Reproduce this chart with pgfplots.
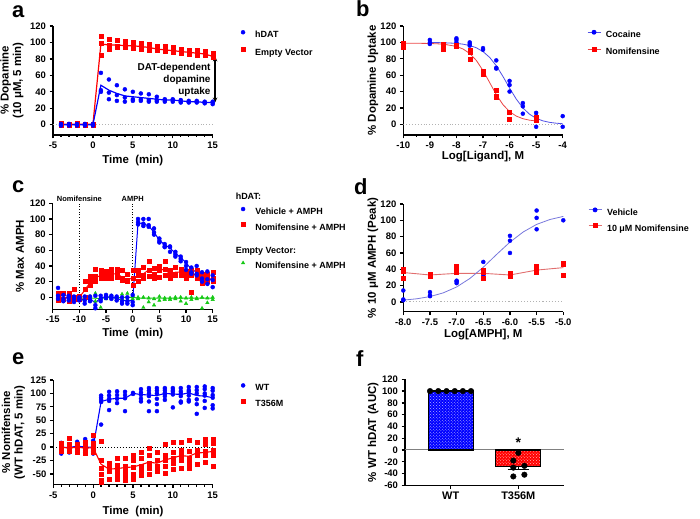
\documentclass[border=0pt]{standalone}
\usepackage{fontspec}
\setmainfont{Liberation Sans}
\usepackage{pgfplots}
\pgfplotsset{compat=1.18}
\usetikzlibrary{arrows.meta,patterns}
\definecolor{gpblue}{RGB}{0,0,255}
\definecolor{gpred}{RGB}{255,0,0}
\definecolor{gpgreen}{RGB}{20,200,20}
\definecolor{fitblue}{RGB}{80,80,230}
\definecolor{fitred}{RGB}{235,70,70}
\definecolor{dblue}{RGB}{120,120,220}
\definecolor{dred}{RGB}{225,110,110}
\pgfplotsset{
  gp/.style={
    scale only axis,
    anchor=south west,
    axis lines*=left,
    axis line style={line width=1.3bp},
    every tick/.style={line width=1.3bp, black},
    tick align=outside,
    major tick length=3.5bp,
    minor tick length=2bp,
    tick label style={font=\bfseries\fontsize{9.5}{9.5}\selectfont},
    /pgf/number format/assume math mode=true,
    label style={font=\bfseries\fontsize{11.5}{12.5}\selectfont},
    legend style={draw=none, fill=none, inner sep=0pt, font=\bfseries\fontsize{9}{10}\selectfont, cells={anchor=base west}, anchor=north west},
    legend cell align=left,
  },
  mk/.style={legend image code/.code={\draw[##1] plot coordinates {(0bp,3.2bp)}; \path (-2bp,0bp) (10bp,0bp);}},
  ln/.style={legend image code/.code={\draw[mark repeat=2,mark phase=2,##1] plot coordinates {(-6.5bp,3.2bp) (0bp,3.2bp) (6.5bp,3.2bp)}; \path (-6.5bp,0bp) (9.5bp,0bp);}},
  bdot/.style={only marks, mark=*, mark size=2bp, mark options={draw=gpblue, fill=gpblue}},
  rsq/.style={only marks, mark=square*, mark size=2bp, mark options={draw=gpred, fill=gpred}},
  gtri/.style={only marks, mark=triangle*, mark size=2bp, mark options={draw=gpgreen, fill=gpgreen}},
}
\begin{document}
\begin{tikzpicture}
% panel letters
\node[anchor=base west, inner sep=0pt, font=\bfseries\fontsize{22}{22}\selectfont] at (12bp,501bp) {a};
\node[anchor=base west, inner sep=0pt, font=\bfseries\fontsize{22}{22}\selectfont] at (356bp,502bp) {b};
\node[anchor=base west, inner sep=0pt, font=\bfseries\fontsize{22}{22}\selectfont] at (12bp,326bp) {c};
\node[anchor=base west, inner sep=0pt, font=\bfseries\fontsize{22}{22}\selectfont] at (354bp,324bp) {d};
\node[anchor=base west, inner sep=0pt, font=\bfseries\fontsize{22}{22}\selectfont] at (12bp,154bp) {e};
\node[anchor=base west, inner sep=0pt, font=\bfseries\fontsize{22}{22}\selectfont] at (356bp,152bp) {f};

% ---------- panel a ----------
\begin{axis}[gp, mk, at={(53bp,384bp)}, width=159.7bp, height=109bp,
  xmin=-5, xmax=15, ymin=-12.5, ymax=120,
  xtick={-5,0,...,15}, minor xtick={-4,...,14}, ytick={0,20,...,120},
  xlabel={Time\ \ (min)}, ylabel={\% Dopamine\\(10 μM, 5 min)},
  ylabel style={align=center, at={(axis description cs:-0.257,0.5)}, anchor=center},
  xlabel style={at={(axis description cs:0.5,-0.232)}, anchor=center},
  clip=false,
  legend style={at={(axis description cs:1.175,0.97)}, row sep=5.5bp}]
\addplot[gray!60, dotted, line width=0.9bp, forget plot] coordinates {(-5,0) (15,0)};
\addplot[gpred, line width=1.2bp, forget plot] coordinates {(-4,0.5)(-3,0.5)(-2,0.5)(-1,0.5)(0,0.5)(1,98)(2,97)(3,97)(4,96)(5,96)(6,95)(7,94)(8,92)(9,91)(10,90)(11,89)(12,88)(13,87)(14,86)(15,83)};
\addplot[gpblue, line width=1.2bp, forget plot] coordinates {(-4,0)(-3,0)(-2,0)(-1,0)(0,0)(1,48)(2,42)(3,38)(4,35)(5,34)(6,33)(7,32)(8,31)(9,30)(10,30)(11,29)(12,28)(13,28)(14,27)(15,27)};
\addplot[rsq, forget plot] coordinates {(-4,2)(-4,0)(-4,-1)(-3,1)(-3,0)(-3,-1)(-2,2)(-2,0)(-2,-1)(-1,1)(-1,0)(-1,-1)(0,1)(0,0)(0,-1)
(1,107)(1,99)(1,84)(2,104)(2,97)(2,92)(3,103)(3,96)(3,94)(4,101)(4,95)(4,94)(5,100)(5,95)(5,93)(6,99)(6,94)(6,92)(7,98)(7,93)(7,91)(8,96)(8,91)(8,90)(9,95)(9,90)(9,89)(10,94)(10,89)(10,88)(11,92)(11,88)(11,87)(12,91)(12,87)(12,86)(13,90)(13,86)(13,85)(14,89)(14,85)(14,84)(15,87)(15,84)(15,82)};
\addplot[bdot, forget plot] coordinates {(-4,1)(-4,0)(-4,-1)(-3,1)(-3,0)(-3,-1)(-2,1)(-2,0)(-2,-1)(-1,1)(-1,0)(-1,-1)(0,1)(0,0)(0,-1)
(1,63)(1,42)(1,40)(2,55)(2,39)(2,31)(3,48)(3,36)(3,29)(4,43)(4,33)(4,28)(5,40)(5,31)(5,29)(6,38)(6,31)(6,29)(7,37)(7,30)(7,28)(8,34)(8,30)(8,28)(9,31)(9,30)(9,28)(10,31)(10,30)(10,28)(11,30)(11,28)(11,27)(12,29)(12,28)(12,27)(13,29)(13,28)(13,27)(14,28)(14,27)(14,26)(15,28)(15,27)(15,25)};
\addlegendimage{bdot}\addlegendentry{hDAT}
\addlegendimage{rsq}\addlegendentry{Empty Vector}
\draw[line width=1.3bp, {Stealth[length=5bp,width=4.5bp]}-{Stealth[length=5bp,width=4.5bp]}] (axis cs:15.3,83) -- (axis cs:15.3,27);
\node[anchor=east, align=right, inner sep=0pt, font=\bfseries\fontsize{10}{12}\selectfont] at (axis cs:14.75,54) {DAT-dependent\\dopamine\\uptake};
\end{axis}

% ---------- panel b ----------
\begin{axis}[gp, ln, at={(403.3bp,384bp)}, width=159.4bp, height=109bp,
  xmin=-10, xmax=-4, ymin=-13, ymax=120,
  xtick={-10,...,-4}, minor xtick={-9.5,-8.5,...,-4.5}, ytick={0,20,...,120},
  xlabel={Log[Ligand], M}, ylabel={\% Dopamine Uptake},
  ylabel style={at={(axis description cs:-0.19,0.5)}, anchor=center},
  xlabel style={at={(axis description cs:0.5,-0.2)}, anchor=center},
  legend style={at={(axis description cs:1.152,0.97)}, row sep=5bp}]
\addplot[gray!60, dotted, line width=0.9bp, forget plot] coordinates {(-10,0) (-4,0)};
\addplot[fitblue, line width=0.8bp, forget plot] coordinates {(-9,99.9)(-8.5,99.6)(-8,98.8)(-7.75,97.8)(-7.5,96.2)(-7.25,93.4)(-7,88.8)(-6.75,81.7)(-6.5,71.5)(-6.25,58.5)(-6,44.3)(-5.75,30.9)(-5.5,20.1)(-5.25,12.4)(-5,7.4)(-4.75,4.3)(-4.5,2.45)(-4.25,1.4)(-4,0.8)};
\addplot[fitred, line width=0.8bp, forget plot] coordinates {(-10,99)(-9.5,98.9)(-9,98.7)(-8.5,97.9)(-8,95.1)(-7.75,91.9)(-7.5,86.5)(-7.25,77.9)(-7,65.7)(-6.75,51)(-6.5,36.3)(-6.25,24.1)(-6,15.5)(-5.75,10.1)(-5.5,6.9)(-5.25,5.1)(-5,4.1)};
\addplot[bdot, forget plot] coordinates {(-9,103)(-9,100)(-9,98)(-8,105)(-8,103)(-8,100)(-7.5,100)(-7.5,98)(-7.5,96)(-7,93)(-7,91)(-6.5,78)(-6.5,69)(-6.5,68)(-6,53)(-6,48)(-6,40)(-5.5,26)(-5.5,22)(-5.5,13)(-5,14)(-5,10)(-5,-3)(-4,10)(-4,-3)};
\addplot[rsq, forget plot] coordinates {(-10,99)(-10,96)(-10,94)(-8.5,98)(-8.5,92)(-8,97)(-8,95)(-7.5,90)(-7.5,88)(-7.5,79)(-7,65)(-7,63)(-7,61)(-6.5,42)(-6.5,34)(-6.5,33)(-6,15)(-6,6)(-5,9)(-5,6)(-5,5)};
\addlegendimage{fitblue, line width=0.8bp, mark=*, mark size=2bp, mark options={draw=gpblue, fill=gpblue}}\addlegendentry{Cocaine}
\addlegendimage{fitred, line width=0.8bp, mark=square*, mark size=2bp, mark options={draw=gpred, fill=gpred}}\addlegendentry{Nomifensine}
\end{axis}

% ---------- panel c ----------
\begin{axis}[gp, mk, at={(52.7bp,209.7bp)}, width=160bp, height=106bp,
  xmin=-15, xmax=15, ymin=-15.3, ymax=120,
  xtick={-15,-10,...,15}, ytick={0,20,...,120},
  xlabel={Time\ \ (min)}, ylabel={\% Max AMPH},
  ylabel style={at={(axis description cs:-0.204,0.5)}, anchor=center},
  xlabel style={at={(axis description cs:0.5,-0.226)}, anchor=center},
  clip=false,
  legend style={at={(axis description cs:1.175,1.12)}, row sep=3.5bp}]
\draw[dotted, line width=0.7bp] (axis cs:-10,-15.3) -- (axis cs:-10,120);
\draw[dotted, line width=0.7bp] (axis cs:0,-15.3) -- (axis cs:0,120);
\node[anchor=base, inner sep=0pt, font=\bfseries\fontsize{7.5}{8}\selectfont] at (axis cs:-10,122) {Nomifensine};
\node[anchor=base, inner sep=0pt, font=\bfseries\fontsize{7.5}{8}\selectfont] at (axis cs:0,122) {AMPH};
\addplot[gpgreen, line width=1bp, forget plot] coordinates {(-10,-1)(-9,-1)(-8,-1)(-7,-1)(-6,-2)(-5,0)(-4,0)(-3,-1)(-2,0)(-1,0)(0,0)(1,-1)(2,-1)(3,-1)(4,-1)(5,-1)(6,-1)(7,-1)(8,-1)(9,-1)(10,-1)(11,-1)(12,-1)(13,-1)(14,-1)(15,-1)};
\addplot[gpred, line width=1bp, forget plot] coordinates {(-14,0)(-13,0)(-12,0)(-11,1)(-10,0)(-9,9)(-8,19)(-7,25)(-6,28)(-5,29)(-4,30)(-3,30)(-2,26)(-1,22)(0,25)(1,26)(2,30)(3,35)(4,30)(5,33)(6,37)(7,29)(8,32)(9,32)(10,30)(11,28)(12,30)(13,24)(14,22)(15,24)};
\addplot[gpblue, line width=1bp, forget plot] coordinates {(-14,2)(-13,-1)(-12,-1)(-11,-2)(-10,-2)(-9,-3)(-8,-2)(-7,-7)(-6,-1)(-5,1)(-4,0)(-3,-1)(-2,-4)(-1,-4)(0,-4)(1,95)(2,94)(3,91)(4,83)(5,73)(6,67)(7,63)(8,56)(9,51)(10,44)(11,36)(12,32)(13,30)(14,22)(15,24)};
\addplot[gtri, forget plot] coordinates {(-10,0)(-10,-2)(-9,-1)(-9,-3)(-8,1)(-8,-4)(-7,5)(-7,-5)(-6,-1)(-6,-13)(-5,3)(-5,-2)(-4,2)(-4,-1)(-3,0)(-3,-3)(-2,4)(-2,-2)(-1,5)(-1,-3)(0,2)(0,-2)(1,0)(1,-2)(2,0)(2,-13)(3,-1)(3,-6)(4,-2)(4,-10)(5,1)(5,-4)(6,-1)(6,-3)(7,-1)(7,-3)(8,0)(8,-2)(9,0)(9,-5)(10,-1)(10,-8)(11,0)(11,-3)(12,-1)(12,-2)(13,0)(13,-14)(14,-1)(14,-7)(15,0)(15,-3)};
\addplot[rsq, forget plot] coordinates {(-14,5)(-14,0)(-14,-4)(-13,5)(-13,-2)(-13,-3)(-12,5)(-12,-1)(-12,-5)(-11,10)(-11,0)(-11,-3)(-10,2)(-10,-1)(-10,-3)(-9,20)(-9,10)(-9,0)(-8,27)(-8,20)(-8,15)(-7,36)(-7,27)(-7,20)(-6,35)(-6,28)(-6,24)(-5,33)(-5,30)(-5,24)(-4,36)(-4,30)(-4,25)(-3,36)(-3,32)(-3,26)(-2,34)(-2,25)(-2,22)(-1,30)(-1,22)(-1,20)(0,35)(0,25)(0,15)
(1,35)(1,28)(1,20)(2,38)(2,28)(2,25)(3,46)(3,34)(3,27)(4,37)(4,30)(4,25)(5,40)(5,35)(5,26)(6,46)(6,36)(6,28)(7,35)(7,30)(7,25)(8,38)(8,30)(8,28)(9,36)(9,32)(9,28)(10,33)(10,30)(10,25)(11,34)(11,28)(11,7)(12,35)(12,30)(12,25)(13,30)(13,25)(13,18)(14,30)(14,24)(14,20)(15,32)(15,25)(15,20)};
\addplot[bdot, forget plot] coordinates {(-14,12)(-14,2)(-14,-2)(-13,3)(-13,-2)(-13,-5)(-12,2)(-12,0)(-12,-4)(-11,1)(-11,-2)(-11,-6)(-10,0)(-10,-2)(-10,-4)(-9,1)(-9,-4)(-9,-8)(-8,1)(-8,-3)(-8,-5)(-7,2)(-7,-10)(-7,-14)(-6,2)(-6,-2)(-6,-5)(-5,3)(-5,1)(-5,-1)(-4,2)(-4,0)(-4,-2)(-3,1)(-3,-1)(-3,-4)(-2,0)(-2,-5)(-2,-8)(-1,0)(-1,-5)(-1,-8)(0,3)(0,-6)(0,-10)
(1,100)(1,96)(1,93)(2,100)(2,94)(2,91)(3,100)(3,92)(3,90)(4,88)(4,83)(4,80)(5,75)(5,72)(5,70)(6,68)(6,65)(6,64)(7,65)(7,64)(7,58)(8,58)(8,55)(8,52)(9,52)(9,49)(9,46)(10,45)(10,40)(10,35)(11,38)(11,32)(11,30)(12,40)(12,30)(12,28)(13,32)(13,24)(13,20)(14,33)(14,23)(14,17)(15,28)(15,22)(15,13)};
\addlegendimage{empty legend}\addlegendentry{\hspace*{-19.5bp}hDAT:}
\addlegendimage{bdot}\addlegendentry{Vehicle + AMPH}
\addlegendimage{rsq}\addlegendentry{Nomifensine + AMPH}
\addlegendimage{empty legend}\addlegendentry{\hspace*{-19.5bp}\rule{0pt}{14bp}Empty Vector:}
\addlegendimage{gtri}\addlegendentry{Nomifensine + AMPH}
\end{axis}

% ---------- panel d ----------
\begin{axis}[gp, ln, at={(403.3bp,207.3bp)}, width=160bp, height=107.7bp,
  xmin=-8, xmax=-5, ymin=-12, ymax=120,
  xtick={-8,-7.5,...,-5}, ytick={0,20,...,120},
  xticklabel style={/pgf/number format/.cd, fixed, fixed zerofill, precision=1},
  xlabel={Log[AMPH], M}, ylabel={\% 10 μM AMPH (Peak)},
  ylabel style={at={(axis description cs:-0.19,0.5)}, anchor=center},
  xlabel style={at={(axis description cs:0.5,-0.216)}, anchor=center},
  legend style={at={(axis description cs:1.154,0.973)}, row sep=3.5bp}]
\addplot[gray!60, dotted, line width=1.1bp, forget plot] coordinates {(-8,0) (-5,0)};
\addplot[dred, line width=0.9bp, forget plot] coordinates {(-8,36)(-7.5,33)(-7,35)(-6.5,35)(-6,33)(-5.5,39)(-5,42)};
\addplot[dblue, line width=0.8bp, forget plot] coordinates {(-8,2.2)(-7.75,3.8)(-7.5,6.5)(-7.25,11.1)(-7,18.3)(-6.75,28.8)(-6.5,42.5)(-6.25,58.2)(-6,73.3)(-5.75,85.8)(-5.5,95)(-5.25,101)(-5,104.8)};
\addplot[bdot, forget plot] coordinates {(-8,14)(-8,3)(-8,2)(-7.5,12)(-7.5,8)(-7.5,7)(-7,26)(-7,25)(-7,23)(-6.5,49)(-6.5,32)(-6.5,30)(-6,81)(-6,75)(-6,60)(-5.5,112)(-5.5,103)(-5.5,89)(-5,100)};
\addplot[rsq, forget plot] coordinates {(-8,40)(-8,38)(-8,29)(-7.5,34)(-7.5,33)(-7.5,32)(-7,44)(-7,38)(-7,36)(-6.5,39)(-6.5,37)(-6.5,29)(-6,35)(-6,33)(-6,31)(-5.5,44)(-5.5,38)(-5.5,36)(-5,47)(-5,46)(-5,33)};
\addlegendimage{dblue, line width=0.8bp, mark=*, mark size=2bp, mark options={draw=gpblue, fill=gpblue}}\addlegendentry{Vehicle}
\addlegendimage{dred, line width=0.9bp, mark=square*, mark size=2bp, mark options={draw=gpred, fill=gpred}}\addlegendentry{10 μM Nomifensine}
\end{axis}

% ---------- panel e ----------
\begin{axis}[gp, mk, at={(53.3bp,34.3bp)}, width=159.4bp, height=104.7bp,
  xmin=-5, xmax=15, ymin=-70, ymax=125,
  xtick={-5,0,...,15}, minor xtick={-4,...,14}, ytick={-50,-25,...,125},
  tick label style={font=\bfseries\fontsize{9.5}{9.5}\selectfont},
  xlabel={Time\ \ (min)}, ylabel={\% Nomifensine\\(WT hDAT, 5 min)},
  ylabel style={align=center, at={(axis description cs:-0.25,0.5)}, anchor=center},
  xlabel style={at={(axis description cs:0.5,-0.258)}, anchor=center},
  legend style={at={(axis description cs:1.176,0.975)}, row sep=4bp}]
\addplot[black, dotted, line width=0.9bp, forget plot] coordinates {(-5,0) (15,0)};
\addplot[gpblue, line width=1.1bp, forget plot] coordinates {(-4,0)(-3,-1)(-2,2)(-1,0)(0,0)(1,85)(2,89)(3,91)(4,91)(5,100)(6,98)(7,97)(8,96)(9,100)(10,99)(11,98)(12,101)(13,96)(14,95)(15,92)};
\addplot[gpred, line width=1.1bp, forget plot] coordinates {(-4,0)(-3,-2)(-2,0)(-1,-2)(0,-1)(1,-32)(2,-41)(3,-40)(4,-38)(5,-37)(6,-33)(7,-28)(8,-30)(9,-24)(10,-20)(11,-16)(12,-17)(13,-11)(14,-10)(15,-8)};
\addplot[bdot, forget plot] coordinates {(-4,8)(-4,3)(-4,0)(-4,-3)(-4,-6)(-4,-12)(-3,5)(-3,2)(-3,0)(-3,-3)(-3,-6)(-3,-10)(-2,10)(-2,5)(-2,2)(-2,0)(-2,-3)(-2,-8)(-1,15)(-1,8)(-1,2)(-1,-2)(-1,-6)(-1,-10)(0,12)(0,5)(0,0)(0,-3)(0,-8)(0,-12)
(1,96)(1,92)(1,88)(1,84)(1,42)(2,103)(2,96)(2,90)(2,86)(2,69)(3,104)(3,97)(3,90)(3,82)(4,103)(4,97)(4,91)(4,67)(5,101)(5,99)
(6,108)(6,102)(6,97)(6,90)(6,85)(7,110)(7,105)(7,100)(7,95)(7,85)(7,67)(8,110)(8,105)(8,100)(8,90)(8,80)(8,67)(9,110)(9,106)(9,101)(9,99)(9,95)(9,88)(10,110)(10,106)(10,103)(10,98)(10,74)
(11,110)(11,104)(11,100)(11,95)(11,85)(11,83)(12,112)(12,106)(12,103)(12,96)(12,88)(12,85)(13,112)(13,106)(13,100)(13,89)(13,80)(13,62)(14,113)(14,108)(14,100)(14,96)(14,86)(14,73)(15,110)(15,105)(15,97)(15,92)(15,78)(15,72)};
\addplot[rsq, forget plot] coordinates {(-4,8)(-4,3)(-4,-2)(-4,-5)(-4,-8)(-3,17)(-3,5)(-3,0)(-3,-5)(-3,-8)(-2,5)(-2,2)(-2,-3)(-2,-6)(-2,-10)(-1,10)(-1,0)(-1,-5)(-1,-8)(-1,-12)(0,22)(0,8)(0,0)(0,-5)(0,-10)
(1,11)(1,-25)(1,-40)(1,-50)(1,-62)(1,-66)(2,-30)(2,-38)(2,-45)(2,-60)(3,-20)(3,-33)(3,-42)(3,-50)(3,-60)(4,-20)(4,-35)(4,-45)(4,-55)(4,-62)(5,-15)(5,-25)(5,-38)(5,-50)(5,-60)
(6,-10)(6,-20)(6,-35)(6,-45)(6,-52)(7,-2)(7,-15)(7,-30)(7,-40)(7,-50)(8,-10)(8,-25)(8,-35)(8,-45)(9,6)(9,-15)(9,-25)(9,-35)(9,-48)(10,9)(10,-10)(10,-20)(10,-30)(10,-42)
(11,9)(11,-5)(11,-15)(11,-25)(11,-40)(12,12)(12,-8)(12,-20)(12,-30)(12,-40)(13,10)(13,-5)(13,-15)(13,-32)(14,15)(14,5)(14,-8)(14,-15)(14,-28)(15,14)(15,8)(15,-5)(15,-15)(15,-36)};
\addlegendimage{bdot}\addlegendentry{WT}
\addlegendimage{rsq}\addlegendentry{T356M}
\end{axis}

% ---------- panel f ----------
\begin{axis}[gp, at={(405bp,33.7bp)}, width=159.3bp, height=106bp,
  xmin=0.324, xmax=2.68, ymin=-60, ymax=120,
  xtick={1,2}, xticklabels={WT,T356M}, ytick={-60,-40,...,120},
  tick label style={font=\bfseries\fontsize{9.5}{9.5}\selectfont},
  xticklabel style={font=\bfseries\fontsize{11}{11}\selectfont},
  ylabel={\% WT hDAT (AUC)},
  ylabel style={at={(axis description cs:-0.2,0.5)}, anchor=center},
  clip=false]
\addplot[gray, line width=1bp, forget plot] coordinates {(0.324,0) (2.68,0)};
\addplot[ybar, bar width=0.666, bar shift=0pt, draw=black, line width=1.2bp, fill=gpblue, postaction={pattern=crosshatch dots, pattern color=blue!30!white}, forget plot] coordinates {(1,100)};
\addplot[ybar, bar width=0.666, bar shift=0pt, draw=black, line width=1.2bp, fill=gpred, postaction={pattern=crosshatch dots, pattern color=red!30!white}, forget plot] coordinates {(2,-27.8)};
\addplot[black, line width=1.2bp, forget plot] coordinates {(2,-27.8) (2,-33.5)};
\addplot[black, line width=1.2bp, forget plot] coordinates {(1.84,-33.5) (2.16,-33.5)};
\addplot[only marks, mark=*, mark size=2.8bp, black, forget plot] coordinates {(0.694,100)(0.816,100)(0.938,100)(1.06,100)(1.18,100)(1.30,100)};
\addplot[only marks, mark=*, mark size=2.8bp, black, forget plot] coordinates {(2,-5)(1.926,-18)(2.09,-27)(1.926,-30)(1.926,-45)(2.09,-42)};
\node[font=\bfseries\fontsize{14}{14}\selectfont] at (axis cs:2,13) {*};
\end{axis}
\pgfresetboundingbox
\path[use as bounding box] (0,0) rectangle (700bp,519bp);
\end{tikzpicture}
\end{document}
